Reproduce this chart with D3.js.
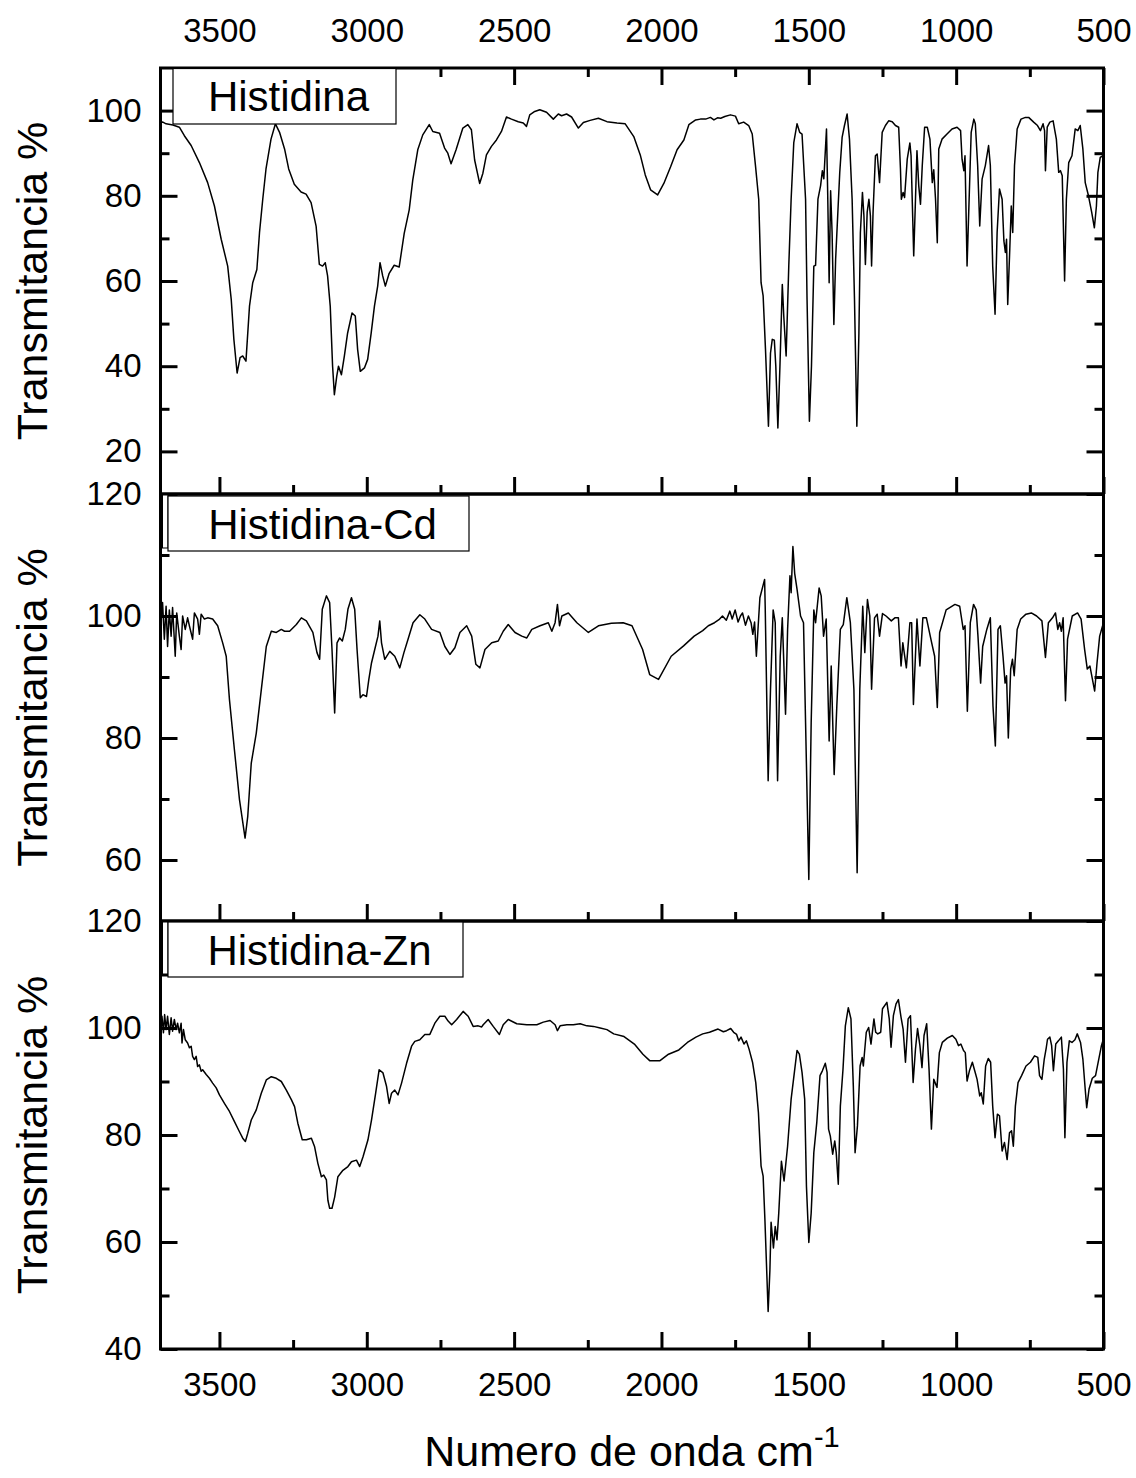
<!DOCTYPE html>
<html>
<head>
<meta charset="utf-8">
<script src="https://cdn.jsdelivr.net/npm/d3@7"></script>
<style>
  html, body { margin: 0; padding: 0; background: #fff; }
  svg { display: block; }
  text { font-family: "Liberation Sans", Arial, Helvetica, sans-serif; fill: #000; }
</style>
</head>
<body>
<svg id="chart" width="1136" height="1478"></svg>
<script>
// ---------------- DATA ----------------
const panelNames = ["Histidina", "Histidina-Cd", "Histidina-Zn"];
const xMajorTicks = [3500, 3000, 2500, 2000, 1500, 1000, 500];
const xMinorTicks = [3250, 2750, 2250, 1750, 1250, 750];
const xDomain = [3700, 500];

const yDomainHis = [10, 110];
const yMajorHis = [20, 40, 60, 80, 100];
const yMinorHis = [30, 50, 70, 90];

const yDomainCd = [50, 120];
const yMajorCd = [60, 80, 100, 120];
const yMinorCd = [70, 90, 110];

const yDomainZn = [40, 120];
const yMajorZn = [40, 60, 80, 100, 120];
const yMinorZn = [50, 70, 90, 110];

// [wavenumber cm-1, transmittance %]
const histidina = [
[3700,97.2],[3692,97.3],[3681,96.9],[3658,96.6],[3636,96.1],[3619,94.1],[3596,91.8],[3568,87.8],[3540,83.1],[3517,77.6],[3494,69.8],[3472,63.5],[3460,55.7],[3451,46.3],[3440,38.4],[3430,42],[3421,42.4],[3410,41.2],[3398,54.1],[3387,59.6],[3373,62.7],[3364,71.4],[3353,79.2],[3342,86.3],[3325,93.3],[3310,96.9],[3296,94.9],[3279,91],[3265,86.3],[3246,82.7],[3223,80.9],[3206,80.4],[3189,78.4],[3172,72.9],[3161,63.9],[3150,63.5],[3141,64.3],[3133,61.2],[3124,54.1],[3116,40],[3110,33.3],[3102,37.6],[3096,40],[3086,38],[3076,42.4],[3065,47.8],[3050,52.5],[3039,51.8],[3031,43.9],[3022,38.8],[3008,39.6],[2997,41.6],[2985,47.8],[2974,54.1],[2963,58.8],[2955,64.3],[2946,61.2],[2937,58.8],[2924,61.8],[2907,63.7],[2890,63.3],[2873,71.2],[2856,76.7],[2844,83.7],[2827,90.8],[2810,94.3],[2788,96.7],[2776,95.1],[2753,94.7],[2736,91.2],[2725,90],[2714,87.5],[2697,90.8],[2674,95.9],[2657,96.7],[2645,95.5],[2634,88.4],[2617,82.9],[2606,85.3],[2594,89.6],[2577,91.6],[2560,93.1],[2543,95.1],[2526,98.5],[2509,98],[2486,97.4],[2469,97.1],[2458,96.3],[2447,99],[2430,99.8],[2413,100.2],[2390,99.6],[2367,98],[2350,99.2],[2339,98.8],[2322,99.2],[2305,98.5],[2282,95.9],[2265,97.2],[2242,97.7],[2214,98.2],[2185,97.4],[2151,97.1],[2123,96.9],[2094,93.9],[2072,89.6],[2055,84.9],[2037,81.4],[2013,80.2],[1992,82.9],[1969,86.8],[1947,90.8],[1924,93.1],[1907,96.7],[1884,97.8],[1868,98],[1850,98],[1834,98.4],[1822,97.8],[1810,98.3],[1799,98.2],[1785,98.6],[1766,99],[1749,98.7],[1738,96.9],[1721,97.3],[1704,96.5],[1692,94.5],[1681,87.1],[1670,79.2],[1662,59.6],[1655,56.5],[1647,43.9],[1637,25.9],[1630,43.1],[1624,46.3],[1617,46.1],[1612,40],[1605,25.5],[1598,40],[1590,59.2],[1585,51.8],[1577,42.4],[1568,63.5],[1560,79.2],[1551,92.5],[1540,96.9],[1531,94.9],[1523,94.5],[1511,79.2],[1506,55.7],[1498,27.1],[1491,40],[1483,63.5],[1477,63.7],[1469,79.2],[1460,82.4],[1454,85.9],[1449,84],[1440,95.7],[1436,80.8],[1431,59.6],[1426,81.2],[1421,71.4],[1415,49.8],[1409,65.1],[1402,75.3],[1395,85.5],[1387,93.7],[1379,96.5],[1370,99.2],[1362,93.3],[1353,79.2],[1345,55.7],[1337,25.9],[1330,47.8],[1325,71.4],[1318,80.8],[1313,75.3],[1308,63.9],[1302,76.1],[1296,79.2],[1291,75.3],[1287,63.5],[1282,76.1],[1274,89.4],[1268,89.8],[1260,83.1],[1251,94.9],[1240,96.5],[1229,97.6],[1217,97.4],[1206,96.5],[1195,96.1],[1189,86.3],[1186,79.2],[1180,80.8],[1175,79.6],[1166,88.6],[1157,92.4],[1153,89.4],[1144,65.9],[1138,79.2],[1133,90.6],[1127,82.4],[1121,78],[1115,87.1],[1107,96.1],[1098,96.1],[1089,93.3],[1081,83.1],[1076,86.1],[1070,79.2],[1064,69],[1059,91],[1048,93.3],[1031,94.5],[1014,95.7],[997,96.1],[985,95.3],[980,88.6],[974,85.9],[970,89.4],[963,63.5],[956,79.2],[949,94.9],[940,98],[935,96.9],[927,87.1],[920,72.9],[912,83.9],[901,87.1],[890,91.8],[884,87.1],[876,63.5],[868,52.2],[861,71.4],[853,81.6],[844,79.2],[838,69.4],[833,66.7],[829,69.8],[825,54.5],[818,67.5],[813,77.6],[808,71.4],[802,87.1],[793,95.7],[780,98],[765,98.4],[754,98.4],[737,97.3],[724,96.5],[714,95.3],[705,96.9],[700,95.3],[697,85.9],[691,96.1],[682,97.3],[671,97.6],[660,93.3],[652,85.5],[646,85.9],[640,84.7],[632,60],[626,79.2],[618,87.8],[607,89.4],[596,95.7],[587,95.3],[579,96.5],[570,91],[562,83.1],[551,80],[540,76.1],[531,72.5],[524,77.6],[519,85.5],[511,89],[502,89.4]
];

const histidinaCd = [
[3700,98],[3693,102.2],[3687,96.2],[3681,101.6],[3676,95],[3670,101],[3664,96.7],[3659,101.4],[3650,93.4],[3645,100.5],[3636,96.7],[3630,94.5],[3625,100],[3616,97.8],[3608,99.7],[3602,98.4],[3591,96.2],[3585,100.5],[3574,99.5],[3568,97],[3562,100.3],[3551,99.5],[3540,99.7],[3523,99.5],[3506,98.4],[3489,95.6],[3477,93.4],[3466,86.3],[3449,78],[3432,69.9],[3413,63.6],[3404,67.1],[3392,75.9],[3375,80.8],[3358,87.9],[3341,95],[3324,97.5],[3307,97.3],[3290,97.8],[3279,97.5],[3262,97.5],[3239,98.6],[3222,99.7],[3205,99.2],[3183,97.3],[3169,94],[3160,92.9],[3151,101.1],[3137,103.3],[3126,102.2],[3118,94.5],[3109,84.1],[3101,95.6],[3092,96.4],[3083,95.9],[3073,97.8],[3064,101.1],[3052,103],[3041,101.1],[3033,94.5],[3022,86.6],[3013,87.1],[3001,86.8],[2993,89.6],[2984,92.3],[2973,94.5],[2962,96.7],[2956,99.2],[2950,95.6],[2939,92.9],[2922,94.2],[2905,93.4],[2888,91.5],[2874,94],[2860,96.2],[2843,98.9],[2820,100.2],[2803,99.5],[2780,97.8],[2752,97.3],[2735,95],[2718,93.7],[2701,94.8],[2684,97.3],[2661,98.4],[2644,96.7],[2630,92.1],[2616,91.5],[2599,94.5],[2576,95.6],[2554,95.9],[2537,97.5],[2520,98.6],[2497,97.3],[2474,96.7],[2457,96.4],[2440,97.8],[2412,98.4],[2384,98.9],[2372,97.5],[2361,98.9],[2353,101.9],[2346,98.4],[2338,100],[2316,100.5],[2287,98.9],[2248,97.3],[2214,98.4],[2170,98.8],[2130,98.9],[2100,98.4],[2064,94.5],[2040,90.4],[2010,89.6],[1967,93.4],[1925,95.1],[1889,96.7],[1860,97.6],[1841,98.4],[1820,98.9],[1805,99.4],[1793,100],[1780,99.3],[1768,100.8],[1760,99.5],[1750,101],[1740,99],[1732,100],[1725,100.5],[1715,98.5],[1705,100],[1696,98.9],[1690,97],[1684,99],[1678,93.4],[1666,103],[1650,106],[1648,101.6],[1638,73],[1630,88],[1621,101],[1614,98.9],[1606,73],[1597,93.4],[1590,99.7],[1579,83.9],[1572,97.8],[1564,106.6],[1560,103.8],[1554,111.4],[1548,107],[1540,104.4],[1528,100],[1518,98.9],[1511,82.5],[1500,56.8],[1492,82.5],[1483,101],[1477,98.9],[1465,104.6],[1458,103.3],[1450,96.7],[1441,99.5],[1431,79.5],[1424,91.8],[1414,74],[1405,85.2],[1393,97.8],[1383,98.6],[1371,103],[1359,98.9],[1347,88],[1336,57.9],[1327,88],[1317,101.6],[1310,94],[1301,102.7],[1293,100],[1287,88],[1277,99.7],[1268,100.3],[1260,96.7],[1250,100.4],[1238,100],[1220,99.2],[1208,99.7],[1196,99.7],[1187,91.8],[1181,95.6],[1169,91.5],[1157,98.9],[1151,98.9],[1145,85.5],[1133,99.5],[1123,91.8],[1113,99.7],[1101,99.7],[1083,95.6],[1073,93.4],[1064,85],[1056,97.3],[1034,101],[1004,101.9],[988,101.6],[976,97.8],[970,98.4],[962,84.4],[952,98.9],[941,101.9],[932,101],[926,96.7],[917,89],[910,95],[896,97.8],[884,99.7],[875,85.2],[867,78.7],[858,97.8],[850,98.4],[841,93.4],[834,89],[829,90.2],[823,80],[815,91.3],[809,92.9],[803,90.2],[793,97.8],[781,99.5],[763,100.3],[745,100.5],[727,100],[709,99.2],[697,93.2],[687,98.9],[673,99.7],[663,100.5],[655,97.8],[649,98.9],[643,97.5],[637,99.7],[629,86.1],[622,96.2],[606,100],[588,100.5],[576,99.5],[564,94.5],[555,91.3],[546,91.8],[530,87.7],[522,92.3],[513,96.7],[503,98.4]
];

const histidinaZn = [
[3700,100],[3695,102.2],[3690,99.1],[3686,102.5],[3681,99.7],[3676,102.2],[3670,98.8],[3664,101.9],[3659,99.4],[3653,101.6],[3647,99.7],[3642,100.9],[3636,99.1],[3630,100.9],[3627,97.2],[3622,99.7],[3616,97.8],[3608,97.2],[3602,96.3],[3596,96.6],[3591,94.7],[3585,94.1],[3579,94.7],[3574,92.8],[3568,93.1],[3562,91.9],[3557,92.2],[3545,91.3],[3534,90.6],[3523,89.7],[3511,88.8],[3500,87.5],[3483,85.9],[3466,84.4],[3449,82.5],[3432,80.6],[3421,79.4],[3412,78.8],[3404,80.3],[3392,82.8],[3375,84.7],[3358,87.8],[3341,90.3],[3324,90.9],[3307,90.6],[3290,90],[3273,88.4],[3256,86.6],[3245,85.3],[3234,82.2],[3219,79.1],[3205,79.1],[3188,79.4],[3177,77.8],[3166,74.7],[3154,72.2],[3146,72.5],[3137,71.6],[3132,67.8],[3126,66.3],[3118,66.3],[3109,68.4],[3098,72.2],[3081,73.4],[3064,74.1],[3052,75],[3035,75.3],[3024,74.1],[3013,75.9],[2996,79.1],[2984,82.8],[2970,87.8],[2958,92.2],[2945,91.6],[2933,89.1],[2924,85.9],[2916,87.8],[2905,88.4],[2894,87.5],[2882,89.7],[2865,93.4],[2848,96.6],[2837,97.5],[2820,97.8],[2803,98.8],[2786,98.8],[2769,100.9],[2752,102.2],[2735,102.2],[2724,101.3],[2712,100.6],[2695,101.6],[2673,103.1],[2656,102.2],[2639,100.3],[2622,100.4],[2610,100.2],[2605,100.6],[2588,101.6],[2571,100.3],[2550,98.8],[2537,100.6],[2520,101.6],[2491,100.8],[2457,100.6],[2423,100.6],[2401,101.1],[2378,101.4],[2361,100.6],[2353,99.5],[2344,100.4],[2321,100.6],[2299,100.6],[2276,100.8],[2253,100.4],[2231,100.3],[2208,100],[2185,99.7],[2162,98.9],[2127,98.4],[2092,97],[2063,95.1],[2040,93.9],[2005,93.9],[1976,95.1],[1941,95.9],[1912,97.3],[1883,98.3],[1860,98.9],[1837,99.2],[1808,99.8],[1790,99.3],[1779,99.5],[1765,99.9],[1755,99.2],[1745,98.8],[1738,97.6],[1730,98.3],[1720,97],[1712,97.6],[1703,96.1],[1691,93.6],[1680,89.8],[1671,84.2],[1662,74.2],[1655,72.3],[1649,64.2],[1638,47],[1632,54.8],[1628,63.7],[1620,58.9],[1614,62.9],[1608,60.4],[1602,65.4],[1593,75.1],[1584,71.4],[1572,77.9],[1560,86.7],[1549,91.7],[1540,95.8],[1532,95.1],[1523,91.7],[1514,86.7],[1508,70.4],[1500,59.9],[1492,65.4],[1483,76.7],[1473,82.3],[1462,91.1],[1454,92],[1444,93.4],[1438,91.7],[1433,81.1],[1427,79.8],[1419,76.4],[1412,78.9],[1407,76.7],[1400,70.8],[1393,85.4],[1384,92.3],[1376,100.4],[1366,103.8],[1357,101.7],[1349,89.2],[1343,76.7],[1335,81.7],[1326,92.9],[1319,94.5],[1315,92.9],[1305,99.2],[1297,100.1],[1289,97],[1279,101.7],[1273,99.2],[1266,98.9],[1256,99.2],[1250,103.6],[1235,104.8],[1227,101.7],[1221,96.4],[1213,102.3],[1204,104.5],[1196,105.3],[1187,102],[1180,99.8],[1172,93.6],[1163,101.7],[1155,102.3],[1146,89.8],[1138,96.1],[1131,99.9],[1123,96.7],[1116,92.6],[1109,98.6],[1100,100.8],[1092,92.3],[1084,81.1],[1076,90.4],[1065,88.9],[1057,95.4],[1047,97.3],[1030,98.1],[1013,98.6],[1001,97.9],[992,96.7],[984,97],[975,95.8],[969,95.4],[963,90.1],[955,92],[945,93.6],[937,92],[929,90.4],[920,87.3],[915,87.9],[908,85.8],[900,92.9],[891,94.3],[883,93.6],[876,85.4],[868,79.5],[860,83.9],[853,83.6],[844,77],[836,78.6],[827,75.4],[819,80.4],[812,80.8],[806,77.9],[799,85.4],[790,89.8],[778,91.1],[763,92.9],[748,93.6],[734,94.8],[723,94.5],[717,91.1],[709,90.4],[701,94.2],[694,96.4],[690,97.9],[682,98.3],[676,96.7],[670,92],[662,97],[653,97.6],[643,98.3],[636,92.3],[631,79.5],[624,93.6],[616,97.6],[607,97.3],[597,97.8],[589,98.9],[578,97.3],[570,94.2],[563,89.2],[557,85.1],[549,88.6],[538,90.6],[527,91.1],[516,94.2],[507,96.7],[500,98]
];

const seriesList = [histidina, histidinaCd, histidinaZn];
const yDomains = [yDomainHis, yDomainCd, yDomainZn];
const yMajors = [yMajorHis, yMajorCd, yMajorZn];
const yMinors = [yMinorHis, yMinorCd, yMinorZn];

// ---------------- LAYOUT ----------------
const plotLeft = 160.5, plotRight = 1103.5;
const panelEdges = [68, 494, 921, 1349];
const majorLen = 17, minorLen = 9;
const tickFont = 33, titleFont = 43, legendFont = 42;
const legendBoxes = [
  {x0: 173, x1: 396, y0: 0.5, y1: 56, small: false},
  {x0: 168, x1: 469, y0: 2, y1: 57, small: true},
  {x0: 168, x1: 463, y0: 1, y1: 56, small: true}
];

const svg = d3.select("#chart");
svg.append("rect").attr("width", 1136).attr("height", 1478).attr("fill", "#fff");

const x = d3.scaleLinear().domain(xDomain).range([plotLeft, plotRight]);

function styleAxis(g) {
  g.select(".domain").remove();
  g.selectAll(".tick line").attr("stroke", "#000").attr("stroke-width", 3);
  g.selectAll(".tick text")
    .attr("font-size", tickFont)
    .attr("font-family", '"Liberation Sans", Arial, sans-serif')
    .attr("fill", "#000");
}

seriesList.forEach((data, i) => {
  const top = panelEdges[i], bottom = panelEdges[i + 1];
  const y = d3.scaleLinear().domain(yDomains[i]).range([bottom, top]);
  const g = svg.append("g");

  const clipId = "clip" + i;
  svg.append("clipPath").attr("id", clipId)
    .append("rect").attr("x", plotLeft).attr("y", top)
    .attr("width", plotRight - plotLeft).attr("height", bottom - top);

  // spectrum
  const line = d3.line().x(d => x(d[0])).y(d => y(d[1]));
  g.append("path")
    .datum(data)
    .attr("clip-path", `url(#${clipId})`)
    .attr("fill", "none")
    .attr("stroke", "#000")
    .attr("stroke-width", 1.5)
    .attr("stroke-linejoin", "round")
    .attr("d", line);

  // left axis (major, labelled)
  g.append("g").attr("transform", `translate(${plotLeft},0)`)
    .call(d3.axisLeft(y).tickValues(yMajors[i]).tickSize(-majorLen).tickPadding(19).tickFormat(d3.format("d")))
    .call(styleAxis);
  g.append("g").attr("transform", `translate(${plotLeft},0)`)
    .call(d3.axisLeft(y).tickValues(yMinors[i]).tickSize(-minorLen).tickFormat(""))
    .call(styleAxis);
  // right axis
  g.append("g").attr("transform", `translate(${plotRight},0)`)
    .call(d3.axisRight(y).tickValues(yMajors[i]).tickSize(-majorLen).tickFormat(""))
    .call(styleAxis);
  g.append("g").attr("transform", `translate(${plotRight},0)`)
    .call(d3.axisRight(y).tickValues(yMinors[i]).tickSize(-minorLen).tickFormat(""))
    .call(styleAxis);

  // bottom axis
  const isLast = i === seriesList.length - 1;
  g.append("g").attr("transform", `translate(0,${bottom})`)
    .call(d3.axisBottom(x).tickValues(xMajorTicks).tickSize(-majorLen).tickPadding(24)
      .tickFormat(isLast ? d3.format("d") : ""))
    .call(styleAxis);
  g.append("g").attr("transform", `translate(0,${bottom})`)
    .call(d3.axisBottom(x).tickValues(xMinorTicks).tickSize(-minorLen).tickFormat(""))
    .call(styleAxis);

  // top axis for first panel
  if (i === 0) {
    g.append("g").attr("transform", `translate(0,${top})`)
      .call(d3.axisTop(x).tickValues(xMajorTicks).tickSize(-majorLen).tickPadding(26).tickFormat(d3.format("d")))
      .call(styleAxis);
    g.append("g").attr("transform", `translate(0,${top})`)
      .call(d3.axisTop(x).tickValues(xMinorTicks).tickSize(-minorLen).tickFormat(""))
      .call(styleAxis);
  }

  // frame
  g.append("rect")
    .attr("x", plotLeft).attr("y", top)
    .attr("width", plotRight - plotLeft).attr("height", bottom - top)
    .attr("fill", "none").attr("stroke", "#000").attr("stroke-width", 3);

  // legend box
  const lb = legendBoxes[i];
  if (lb.small) {
    g.append("rect")
      .attr("x", plotLeft + 2).attr("y", top + 1)
      .attr("width", lb.x0 - plotLeft - 2).attr("height", lb.y1 - 4)
      .attr("fill", "#fff").attr("stroke", "#000").attr("stroke-width", 1);
  }
  g.append("rect")
    .attr("x", lb.x0).attr("y", top + lb.y0)
    .attr("width", lb.x1 - lb.x0).attr("height", lb.y1 - lb.y0)
    .attr("fill", "#fff").attr("stroke", "#000").attr("stroke-width", 1.2);
  g.append("text")
    .attr("x", (lb.x0 + lb.x1) / 2 + 4)
    .attr("y", top + lb.y0 + (lb.y1 - lb.y0) / 2 + 15)
    .attr("text-anchor", "middle")
    .attr("font-size", legendFont)
    .text(panelNames[i]);

  // y title
  svg.append("text")
    .attr("transform", `translate(47,${(top + bottom) / 2}) rotate(-90)`)
    .attr("text-anchor", "middle")
    .attr("font-size", titleFont)
    .text("Transmitancia %");
});

// x title
const xt = svg.append("text")
  .attr("x", (plotLeft + plotRight) / 2)
  .attr("y", 1466)
  .attr("text-anchor", "middle")
  .attr("font-size", titleFont);
xt.append("tspan").text("Numero de onda cm");
xt.append("tspan").attr("font-size", 29).attr("dy", -19).text("-1");
</script>
</body>
</html>
